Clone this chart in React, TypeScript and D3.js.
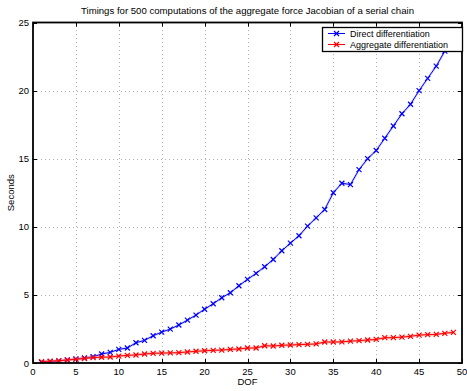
import React, { useEffect, useRef } from 'react';
import * as d3 from 'd3';

// DOF values 1..49
const dof: number[] = d3.range(1, 50);

// Direct differentiation timings (seconds)
const directTimes: number[] = [
    0.05, 0.1, 0.15, 0.22, 0.3, 0.37, 0.46, 0.66, 0.78, 1.0,
    1.1, 1.49, 1.66, 2.0, 2.27, 2.49, 2.79, 3.15, 3.52, 3.95,
    4.35, 4.79, 5.16, 5.67, 6.14, 6.58, 7.07, 7.6, 8.24, 8.8,
    9.34, 10.05, 10.66, 11.27, 12.5, 13.2, 13.1, 14.2, 15.0, 15.6,
    16.5, 17.4, 18.3, 19.0, 20.0, 20.9, 21.8, 22.9, 23.9
];

// Aggregate differentiation timings (seconds)
const aggregateTimes: number[] = [
    0.1, 0.14, 0.17, 0.22, 0.27, 0.33, 0.4, 0.42, 0.44, 0.51,
    0.56, 0.59, 0.66, 0.71, 0.73, 0.74, 0.76, 0.81, 0.86, 0.9,
    0.93, 0.95, 1.0, 1.03, 1.1, 1.1, 1.27, 1.25, 1.3, 1.32,
    1.35, 1.37, 1.4, 1.54, 1.54, 1.55, 1.61, 1.64, 1.69, 1.73,
    1.86, 1.86, 1.9, 1.96, 2.05, 2.08, 2.1, 2.18, 2.25
];

const xTicks: number[] = [0, 5, 10, 15, 20, 25, 30, 35, 40, 45, 50];
const yTicks: number[] = [0, 5, 10, 15, 20, 25];

const seriesNames: string[] = ['Direct differentiation', 'Aggregate differentiation'];

const App = () => {
    const svgRef = useRef<SVGSVGElement>(null);
    const width = 467;
    const height = 391;
    const margin = { left: 33, right: 5, top: 22.5, bottom: 28 };
    const font = '"Liberation Sans", Arial, Helvetica, sans-serif';

    useEffect(() => {
        const svg = d3.select(svgRef.current);
        svg.selectAll('*').remove();

        const x = d3.scaleLinear().domain([0, 50]).range([margin.left, width - margin.right]);
        const y = d3.scaleLinear().domain([0, 25]).range([height - margin.bottom, margin.top]);
        const [x0, x1] = x.range();
        const [y0, y1] = y.range();

        // grid
        const grid = svg.append('g')
            .attr('stroke', '#b0b0b0')
            .attr('stroke-width', 1)
            .attr('stroke-dasharray', '1,3');
        grid.selectAll('.gx')
            .data(xTicks.slice(1, -1))
            .enter()
            .append('line')
            .attr('x1', d => Math.round(x(d)) + 0.5)
            .attr('x2', d => Math.round(x(d)) + 0.5)
            .attr('y1', y0)
            .attr('y2', y1);
        grid.selectAll('.gy')
            .data(yTicks.slice(1, -1))
            .enter()
            .append('line')
            .attr('y1', d => Math.round(y(d)) + 0.5)
            .attr('y2', d => Math.round(y(d)) + 0.5)
            .attr('x1', x0)
            .attr('x2', x1);

        // ticks pointing inward, all sides
        const ticks = svg.append('g').attr('stroke', '#000').attr('stroke-width', 1);
        xTicks.forEach(t => {
            const px = Math.round(x(t)) + 0.5;
            ticks.append('line').attr('x1', px).attr('x2', px).attr('y1', y0).attr('y2', y0 - 4);
            ticks.append('line').attr('x1', px).attr('x2', px).attr('y1', y1).attr('y2', y1 + 4);
        });
        yTicks.forEach(t => {
            const py = Math.round(y(t)) + 0.5;
            ticks.append('line').attr('x1', x0).attr('x2', x0 + 4).attr('y1', py).attr('y2', py);
            ticks.append('line').attr('x1', x1).attr('x2', x1 - 4).attr('y1', py).attr('y2', py);
        });

        // tick labels
        svg.append('g')
            .selectAll('text')
            .data(xTicks)
            .enter()
            .append('text')
            .attr('x', d => x(d))
            .attr('y', y0 + 12)
            .attr('text-anchor', 'middle')
            .attr('font-family', font)
            .attr('font-size', 9.5)
            .text(d => d);
        svg.append('g')
            .selectAll('text')
            .data(yTicks)
            .enter()
            .append('text')
            .attr('x', x0 - 4)
            .attr('y', d => y(d) + 3.5)
            .attr('text-anchor', 'end')
            .attr('font-family', font)
            .attr('font-size', 9.5)
            .text(d => d);

        // series
        const clip = svg.append('defs').append('clipPath').attr('id', 'plotclip');
        clip.append('rect').attr('x', x0).attr('y', y1).attr('width', x1 - x0).attr('height', y0 - y1);
        const plot = svg.append('g').attr('clip-path', 'url(#plotclip)');

        const line = d3.line<number>()
            .x((d, i) => x(dof[i]))
            .y(d => y(d));

        const drawSeries = (vals: number[], color: string, halo: string) => {
            plot.append('path')
                .datum(vals)
                .attr('d', line)
                .attr('fill', 'none')
                .attr('stroke', halo)
                .attr('stroke-width', 2.5);
            plot.append('path')
                .datum(vals)
                .attr('d', line)
                .attr('fill', 'none')
                .attr('stroke', color)
                .attr('stroke-width', 1);
            plot.append('g')
                .selectAll('path')
                .data(vals)
                .enter()
                .append('path')
                .attr('d', (d, i) => {
                    const cx = x(dof[i]);
                    const cy = y(d);
                    const s = 2.5;
                    return `M${cx - s},${cy - s}L${cx + s},${cy + s}M${cx - s},${cy + s}L${cx + s},${cy - s}`;
                })
                .attr('stroke', color)
                .attr('stroke-width', 1.2)
                .attr('fill', 'none');
        };
        drawSeries(directTimes, '#0000ff', 'rgba(120,120,255,0.3)');
        drawSeries(aggregateTimes, '#ff0000', 'rgba(255,120,120,0.55)');

        // axes box
        svg.append('rect')
            .attr('x', x0)
            .attr('y', y1)
            .attr('width', x1 - x0)
            .attr('height', y0 - y1)
            .attr('fill', 'none')
            .attr('stroke', '#000')
            .attr('stroke-width', 1.8);

        // legend
        const lg = svg.append('g');
        lg.append('rect')
            .attr('x', 322.5)
            .attr('y', 27.5)
            .attr('width', 140)
            .attr('height', 24)
            .attr('fill', '#fff')
            .attr('stroke', '#000')
            .attr('stroke-width', 1.3);
        const colors = ['#0000ff', '#ff0000'];
        seriesNames.forEach((name, i) => {
            const ly = 33.5 + i * 11;
            lg.append('line')
                .attr('x1', 328).attr('x2', 345)
                .attr('y1', ly).attr('y2', ly)
                .attr('stroke', colors[i]);
            lg.append('path')
                .attr('d', `M${336.5 - 2.5},${ly - 2.5}L${336.5 + 2.5},${ly + 2.5}M${336.5 - 2.5},${ly + 2.5}L${336.5 + 2.5},${ly - 2.5}`)
                .attr('stroke', colors[i])
                .attr('stroke-width', 1.2);
            lg.append('text')
                .attr('x', 350)
                .attr('y', ly + 3.3)
                .attr('font-family', font)
                .attr('font-size', 9)
                .text(name);
        });

        // title and labels
        svg.append('text')
            .attr('x', (x0 + x1) / 2)
            .attr('y', 14)
            .attr('text-anchor', 'middle')
            .attr('font-family', font)
            .attr('font-size', 9.6)
            .text('Timings for 500 computations of the aggregate force Jacobian of a serial chain');
        svg.append('text')
            .attr('x', (x0 + x1) / 2)
            .attr('y', 385)
            .attr('text-anchor', 'middle')
            .attr('font-family', font)
            .attr('font-size', 9.5)
            .text('DOF');
        svg.append('text')
            .attr('transform', `translate(14, ${(y0 + y1) / 2}) rotate(-90)`)
            .attr('text-anchor', 'middle')
            .attr('font-family', font)
            .attr('font-size', 9.5)
            .text('Seconds');
    }, []);

    return (
        <svg
            ref={svgRef}
            width={width}
            height={height}
            style={{ position: 'absolute', left: 0, top: 0, background: '#fff' }}
        ></svg>
    );
};

export default App;
